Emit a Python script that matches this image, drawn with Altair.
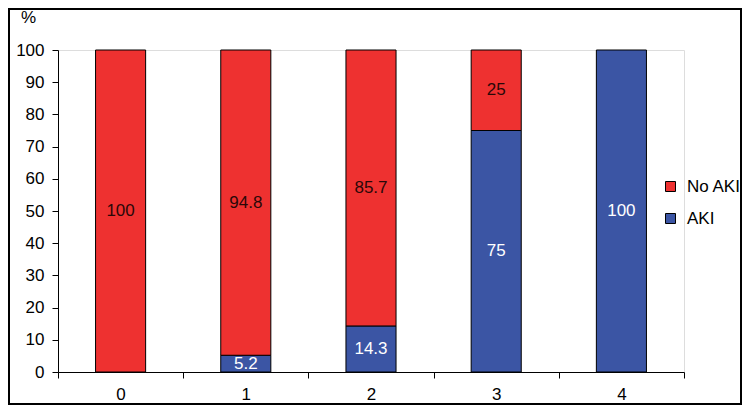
import altair as alt
import pandas as pd

categories = ["0", "1", "2", "3", "4"]
aki = [0, 5.2, 14.3, 75, 100]
no_aki = [100, 94.8, 85.7, 25, 0]
groups = ["No AKI", "AKI"]
colors = ["#EE3130", "#3B55A4"]
y_ticks = [0, 10, 20, 30, 40, 50, 60, 70, 80, 90, 100]

rows = []
for c, a, n in zip(categories, aki, no_aki):
    rows.append({"cat": c, "group": "AKI", "value": a, "order": 0})
    rows.append({"cat": c, "group": "No AKI", "value": n, "order": 1})
df = pd.DataFrame(rows)

W, H = 626, 322
PL, PT, PR, PB = 50, 42, 58, 33

xaxis = alt.Axis(
    title=None, labelAngle=0, tickBand="extent", tickSize=6,
    labelFontSize=17, labelPadding=8, labelColor="black",
    domainColor="black", tickColor="black", grid=False,
)
yaxis = alt.Axis(
    values=y_ticks, grid=False, tickSize=6, labelOverlap=False,
    labelFontSize=17, labelPadding=8, labelColor="black",
    domainColor="black", tickColor="black",
    title="%", titleAngle=0, titleFontSize=17, titleFontWeight="normal",
    titleX=-30, titleY=-33, titleAlign="center", titleBaseline="middle",
    titleColor="black",
)
xscale = alt.Scale(paddingInner=0, paddingOuter=0)
yscale = alt.Scale(domain=[0, 100], nice=False)

base = alt.Chart(df).transform_filter("datum.value > 0")

bars = base.mark_bar(
    stroke="black", strokeWidth=1, width=alt.RelativeBandSize(0.4)
).encode(
    x=alt.X("cat:N", sort=categories, scale=xscale, axis=xaxis),
    y=alt.Y("value:Q", stack="zero", scale=yscale, axis=yaxis),
    color=alt.Color(
        "group:N",
        scale=alt.Scale(domain=groups, range=colors),
        legend=alt.Legend(
            title=None, orient="none", legendX=604, legendY=128,
            symbolType="square", symbolSize=100, symbolStrokeColor="black",
            symbolStrokeWidth=1, labelFontSize=17, labelColor="black",
            rowPadding=14, labelOffset=8,
        ),
    ),
    order=alt.Order("order:Q"),
)

labels = base.transform_stack(
    stack="value", groupby=["cat"], sort=[alt.SortField("order")], as_=["y0", "y1"]
).transform_calculate(
    mid="(datum.y0 + datum.y1) / 2"
).mark_text(fontSize=17, baseline="middle", align="center").encode(
    x=alt.X("cat:N", sort=categories, scale=xscale, axis=xaxis),
    y=alt.Y("mid:Q", scale=yscale, axis=yaxis),
    text=alt.Text("value:Q"),
    color=alt.condition("datum.group == 'AKI'", alt.value("white"), alt.value("#2a0808")),
)

border = alt.Chart(pd.DataFrame({"a": [0]})).mark_rect(
    fill="transparent", stroke="black", strokeWidth=2, clip=False
).encode(
    x=alt.value(-49), x2=alt.value(683), y=alt.value(-41), y2=alt.value(354)
)

chart = alt.layer(bars, labels, border).properties(
    width=W, height=H,
    padding={"left": PL, "top": PT, "right": PR, "bottom": PB},
    autosize=alt.AutoSizeParams(type="none"),
).configure_view(stroke=None).configure(font="Liberation Sans")

chart.save("out.html", embed_options={"renderer": "svg", "actions": False})
